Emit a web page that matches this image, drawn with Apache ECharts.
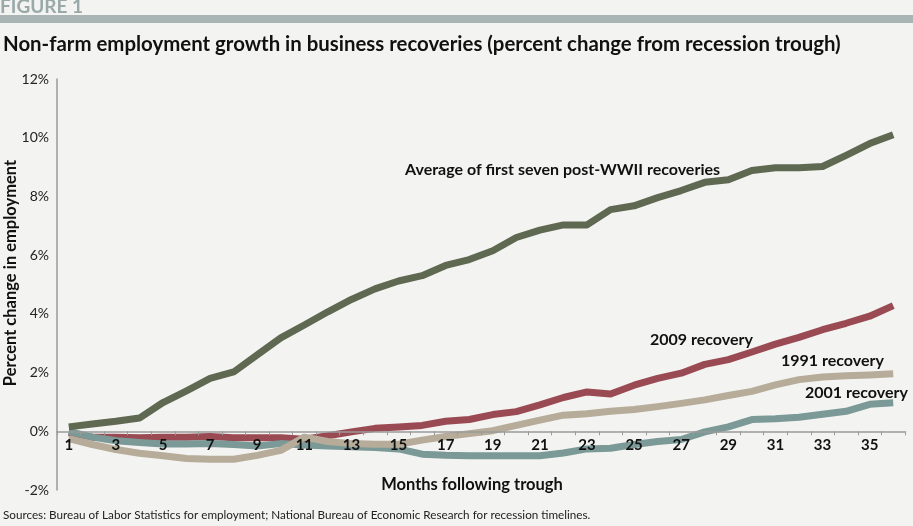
<!DOCTYPE html>
<html>
<head>
<meta charset="utf-8">
<script src="https://cdn.jsdelivr.net/npm/echarts@6/dist/echarts.min.js"></script>
<style>
html,body{margin:0;padding:0;background:#f3f3f1;}
#chart{width:913px;height:526px;}
</style>
</head>
<body>
<div id="chart"></div>
<script>
const months = Array.from({length: 36}, (_, i) => String(i + 1));
const yTicks = [-2, 0, 2, 4, 6, 8, 10, 12];

const avgPostWWII = [0.15,0.25,0.34,0.45,0.98,1.38,1.8,2.02,2.6,3.18,3.62,4.07,4.49,4.85,5.12,5.3,5.65,5.85,6.15,6.6,6.85,7.03,7.03,7.55,7.68,7.96,8.2,8.48,8.57,8.88,8.98,8.98,9.02,9.4,9.8,10.1];
const rec2009 = [-0.05,-0.2,-0.2,-0.22,-0.2,-0.2,-0.18,-0.22,-0.22,-0.22,-0.27,-0.15,-0.02,0.1,0.15,0.2,0.34,0.4,0.57,0.67,0.9,1.15,1.34,1.27,1.57,1.8,1.98,2.28,2.44,2.7,2.97,3.2,3.46,3.68,3.92,4.28];
const rec1991 = [-0.25,-0.45,-0.62,-0.75,-0.83,-0.93,-0.95,-0.95,-0.82,-0.65,-0.2,-0.35,-0.42,-0.44,-0.44,-0.3,-0.18,-0.08,0.02,0.2,0.38,0.55,0.6,0.68,0.74,0.84,0.95,1.07,1.22,1.36,1.58,1.76,1.85,1.89,1.92,1.96];
const rec2001 = [0.0,-0.2,-0.32,-0.38,-0.43,-0.43,-0.42,-0.45,-0.5,-0.42,-0.47,-0.5,-0.53,-0.55,-0.6,-0.78,-0.82,-0.83,-0.83,-0.83,-0.83,-0.74,-0.6,-0.58,-0.45,-0.35,-0.28,-0.02,0.15,0.4,0.43,0.48,0.58,0.68,0.92,0.97];

const FONT = 'Lato, "Open Sans", sans-serif';
const GRID_TOP = 79, GRID_BOTTOM = 36, H = 526;
const plotH = H - GRID_TOP - GRID_BOTTOM;
const yMin = yTicks[0], yMax = yTicks[yTicks.length - 1];
// lift the category axis so it sits on the 0% line (labels included)
const zeroOffset = -plotH * (0 - yMin) / (yMax - yMin);

const chart = echarts.init(document.getElementById('chart'), null, {renderer: 'canvas'});

function line(name, data, color, z) {
  return {
    name, type: 'line', data, symbol: 'none', z,
    lineStyle: {color, width: 7, join: 'round'},
    itemStyle: {color},
    emphasis: {disabled: true}
  };
}

chart.setOption({
  backgroundColor: '#f3f3f1',
  animation: false,
  grid: {left: 57, right: 8, top: GRID_TOP, bottom: GRID_BOTTOM, containLabel: false},
  xAxis: {
    type: 'category', data: months, boundaryGap: true, position: 'bottom', offset: zeroOffset, z: 10,
    axisLine: {onZero: false, lineStyle: {color: '#9a9a9a', width: 1.5}},
    axisTick: {show: true, interval: 0, length: 4, lineStyle: {color: '#9a9a9a'}},
    axisLabel: {interval: 1, fontFamily: FONT, fontWeight: 'bold', fontSize: 15, color: '#111', margin: 6}
  },
  yAxis: {
    type: 'value', min: yMin, max: yMax, interval: 2,
    axisLine: {show: true, lineStyle: {color: '#9a9a9a', width: 1.5}},
    axisTick: {show: false},
    splitLine: {show: false},
    axisLabel: {formatter: '{value}%', fontFamily: FONT, fontSize: 14, color: '#222', margin: 8}
  },
  series: [
    line('2009 recovery', rec2009, '#9a4a53', 2),
    line('2001 recovery', rec2001, '#7a9997', 3),
    line('1991 recovery', rec1991, '#b6ac99', 4),
    line('Average of first seven post-WWII recoveries', avgPostWWII, '#5f6850', 5)
  ],
  graphic: [
    {type: 'rect', left: 0, top: 15, shape: {width: 913, height: 8}, style: {fill: '#a8b5b4'}, silent: true},
    {type: 'text', x: 0, y: 16, style: {text: 'FIGURE 1', font: 'bold 19px ' + FONT, fill: '#98a9a8', letterSpacing: 2.6, verticalAlign: 'bottom'}},
    {type: 'text', x: 3, y: 44, style: {text: 'Non-farm employment growth in business recoveries (percent change from recession trough)', font: 'bold 20.4px ' + FONT, fill: '#111', verticalAlign: 'middle'}},
    {type: 'text', x: 405, y: 170, style: {text: 'Average of first seven post-WWII recoveries', font: 'bold 16px ' + FONT, fill: '#111', verticalAlign: 'middle'}},
    {type: 'text', x: 650, y: 340, style: {text: '2009 recovery', font: 'bold 16px ' + FONT, fill: '#111', verticalAlign: 'middle'}},
    {type: 'text', x: 781, y: 361, style: {text: '1991 recovery', font: 'bold 16px ' + FONT, fill: '#111', verticalAlign: 'middle'}},
    {type: 'text', x: 805, y: 393, style: {text: '2001 recovery', font: 'bold 16px ' + FONT, fill: '#111', verticalAlign: 'middle'}},
    {type: 'text', x: 472, y: 485, style: {text: 'Months following trough', font: 'bold 16.5px ' + FONT, fill: '#111', align: 'center', verticalAlign: 'middle'}},
    {type: 'text', x: 11, y: 273, rotation: Math.PI / 2, style: {text: 'Percent change in employment', font: 'bold 16.5px ' + FONT, fill: '#111', align: 'center', verticalAlign: 'middle'}},
    {type: 'text', x: 3, y: 515, style: {text: 'Sources: Bureau of Labor Statistics for employment; National Bureau of Economic Research for recession timelines.', font: '11.7px ' + FONT, fill: '#222', verticalAlign: 'middle'}}
  ]
});
</script>
</body>
</html>
